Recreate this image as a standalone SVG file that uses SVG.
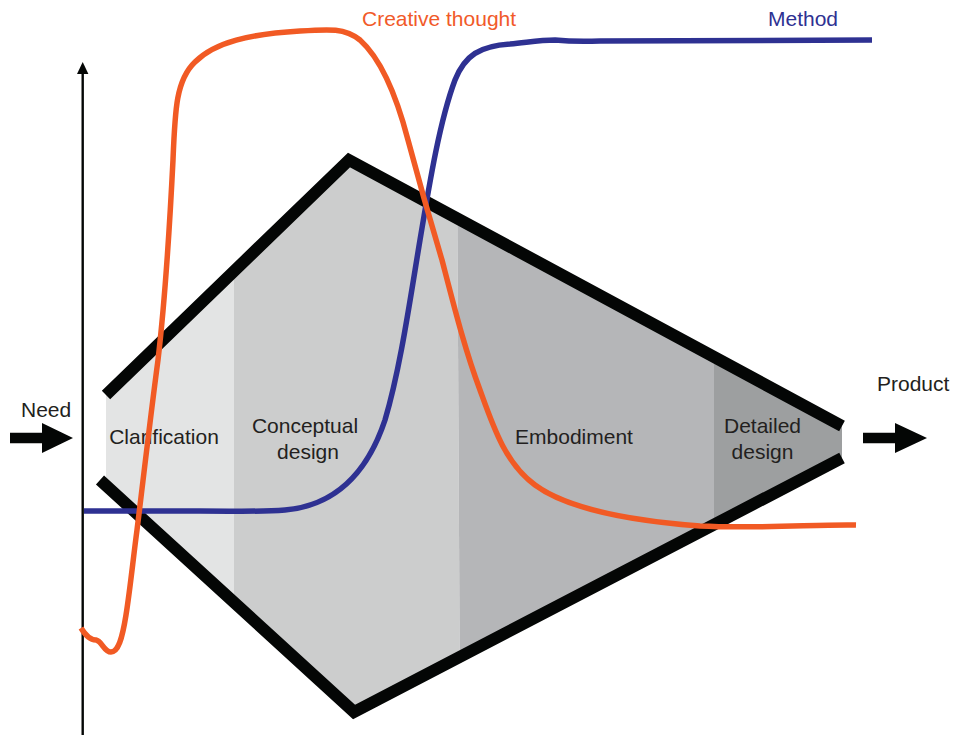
<svg xmlns="http://www.w3.org/2000/svg" width="955" height="735" viewBox="0 0 955 735">
  <style>
    .lbl { font-family: "Liberation Sans", Arial, Helvetica, sans-serif; font-size: 21px; fill: #231f20; }
    .mid { text-anchor: middle; }
    .frame { fill: none; stroke: #040605; stroke-width: 12; stroke-linecap: butt; stroke-linejoin: miter; }
    .curve { fill: none; stroke-width: 5.5; stroke-linecap: butt; stroke-linejoin: round; }
    .arrow { fill: #040605; }
  </style>
  <defs>
    <clipPath id="funnel">
      <polygon points="106,395 349,160 842,426 842,458 354,712 106,485.5"/>
    </clipPath>
  </defs>

  <rect width="955" height="735" fill="#ffffff"/>

  <!-- phase bands inside the funnel -->
  <g id="phases" clip-path="url(#funnel)">
    <rect id="band-clarification" x="100" y="150" width="134" height="570" fill="#e3e4e4"/>
    <polygon id="band-conceptual" points="234,150 457,150 460,720 234,720" fill="#cccdcd"/>
    <polygon id="band-embodiment" points="457,150 714,150 714,720 460,720" fill="#b5b6b8"/>
    <rect id="band-detailed" x="714" y="150" width="140" height="570" fill="#9d9fa0"/>
  </g>

  <!-- funnel outline -->
  <g id="frame">
    <polyline class="frame" points="106,395 349,160 842,426"/>
    <polyline class="frame" points="100,480 354,712 842,458"/>
  </g>

  <!-- vertical axis -->
  <g id="axis">
    <line x1="82.7" y1="735" x2="82.7" y2="72" stroke="#040605" stroke-width="2.4"/>
    <polygon class="arrow" points="82.7,62 77,74 88.4,74"/>
  </g>

  <!-- phase labels -->
  <g id="clarification"><text class="lbl mid" x="164" y="444">Clarification</text></g>
  <g id="conceptual-design">
    <text class="lbl mid" x="305" y="433">Conceptual</text>
    <text class="lbl mid" x="308" y="459">design</text>
  </g>
  <g id="embodiment"><text class="lbl mid" x="574" y="444">Embodiment</text></g>
  <g id="detailed-design">
    <text class="lbl mid" x="762.5" y="433">Detailed</text>
    <text class="lbl mid" x="762.5" y="459">design</text>
  </g>

  <!-- input and output -->
  <g id="need">
    <text class="lbl" x="21" y="417">Need</text>
    <polygon class="arrow" points="10,432.7 42,432.7 42,423 73,438 42,453 42,443.3 10,443.3"/>
  </g>
  <g id="product">
    <text class="lbl" x="877" y="391">Product</text>
    <polygon class="arrow" points="863,432.7 895,432.7 895,423 927,438 895,453 895,443.3 863,443.3"/>
  </g>

  <!-- curves -->
  <g id="connectors">
    <path id="method-curve" class="curve" stroke="#2e3192"
      d="M84,511 L200,511 C240,511 260,512 285,510 C330,506 365,480 385,420 C400,370 410,300 420,240 C430,180 440,120 455,80 C465,55 480,46 510,44 C530,42 540,40 555,40 C565,41 575,42 600,41 L872,40"/>
    <path id="creative-curve" class="curve" stroke="#f15a24"
      d="M81,628 C86,636 90,640 96,640 C102,641 104,652 111,652 C118,652 122,640 126,615 C130,590 133,560 137,530 C142,490 150,420 158,360 C165,300 170,220 173,160 C175,110 176,80 195,62 C215,42 250,34 300,31 C330,29 345,28 360,40 C380,58 395,90 408,140 C420,185 430,220 442,260 C455,310 465,350 480,390 C493,426 505,463 535,485 C565,507 620,520 700,526 C760,529 820,524 856,525"/>
  </g>

  <!-- curve labels -->
  <g id="creative-label"><text class="lbl" x="362" y="26" style="fill:#f15a29">Creative thought</text></g>
  <g id="method-label"><text class="lbl" x="768" y="26" style="fill:#2e3192">Method</text></g>
</svg>
